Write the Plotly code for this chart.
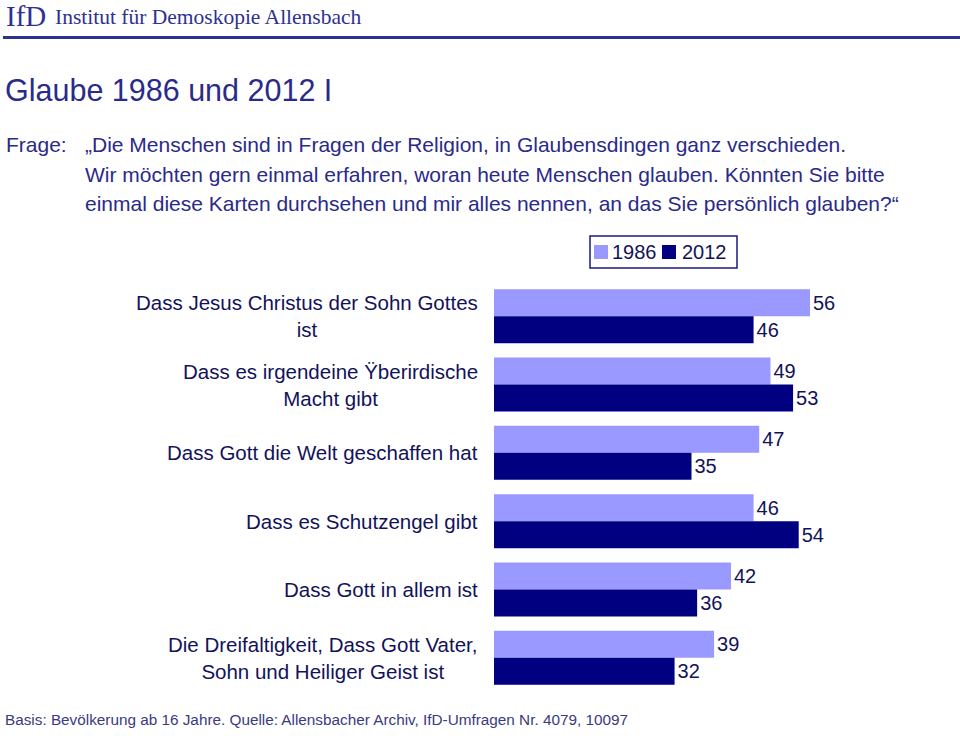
import plotly.graph_objects as go

categories = [
    "Dass Jesus Christus der Sohn Gottes<br>ist",
    "Dass es irgendeine Ÿberirdische<br>Macht gibt",
    "Dass Gott die Welt geschaffen hat",
    "Dass es Schutzengel gibt",
    "Dass Gott in allem ist",
    "Die Dreifaltigkeit, Dass Gott Vater,<br>Sohn und Heiliger Geist ist",
]
cat_ids = ["c1", "c2", "c3", "c4", "c5", "c6"]
values_1986 = [56, 49, 47, 46, 42, 39]
values_2012 = [46, 53, 35, 54, 36, 32]
series_names = ["1986", "2012"]

header_logo = "IfD"
header_inst = "Institut für Demoskopie Allensbach"
title_text = "Glaube 1986 und 2012 I"
question_label = "Frage:"
question_lines = [
    "„Die Menschen sind in Fragen der Religion, in Glaubensdingen ganz verschieden.",
    "Wir möchten gern einmal erfahren, woran heute Menschen glauben. Könnten Sie bitte",
    "einmal diese Karten durchsehen und mir alles nennen, an das Sie persönlich glauben?“",
]
footer_text = "Basis: Bevölkerung ab 16 Jahre. Quelle: Allensbacher Archiv, IfD-Umfragen Nr. 4079, 10097"

W, H = 960, 736
L, R, T, B = 494, 71, 282, 44
PW = W - L - R
PH = H - T - B

def px(x):
    return (x - L) / PW

def py(y):
    return (H - B - y) / PH

C_LIGHT = "#9999FF"
C_DARK = "#000080"
C_TEXT = "#2a2a8a"
C_LABEL = "#12125a"
FONT = "Liberation Sans, Arial, sans-serif"
SERIF = "Liberation Serif, Times New Roman, serif"

fig = go.Figure()
for name, vals, col in [(series_names[0], values_1986, C_LIGHT), (series_names[1], values_2012, C_DARK)]:
    fig.add_trace(go.Bar(
        y=cat_ids, x=vals, orientation="h", name=name,
        marker=dict(color=col, line=dict(width=0)),
        text=[str(v) for v in vals], textposition="outside",
        textfont=dict(size=20, color=C_LABEL, family=FONT),
        cliponaxis=False, showlegend=False, hoverinfo="skip",
    ))

annotations = []
for cid, lab in zip(cat_ids, categories):
    annotations.append(dict(
        x=0, y=cid, xref="x", yref="y", text=lab, showarrow=False,
        xanchor="right", yanchor="middle", align="center", xshift=-14,
        font=dict(size=20.5, color=C_LABEL, family=FONT),
    ))

annotations += [
    dict(x=px(4), y=py(16), xref="paper", yref="paper", text=header_logo, showarrow=False,
         xanchor="left", yanchor="middle", font=dict(size=29, color="#2e3192", family=SERIF)),
    dict(x=px(53), y=py(17), xref="paper", yref="paper", text=header_inst, showarrow=False,
         xanchor="left", yanchor="middle", font=dict(size=21.5, color="#2e3192", family=SERIF)),
    dict(x=px(3), y=py(90), xref="paper", yref="paper", text=title_text, showarrow=False,
         xanchor="left", yanchor="middle", font=dict(size=30.5, color=C_TEXT, family=FONT)),
    dict(x=px(4), y=py(145), xref="paper", yref="paper", text=question_label, showarrow=False,
         xanchor="left", yanchor="middle", font=dict(size=21, color=C_TEXT, family=FONT)),
    dict(x=px(3), y=py(719), xref="paper", yref="paper", text=footer_text, showarrow=False,
         xanchor="left", yanchor="middle", font=dict(size=15.3, color="#3a3a82", family=FONT)),
]
for i, line in enumerate(question_lines):
    annotations.append(dict(
        x=px(83), y=py(145 + 29 * i), xref="paper", yref="paper", text=line,
        showarrow=False, xanchor="left", yanchor="middle",
        font=dict(size=21, color=C_TEXT, family=FONT),
    ))

# legend (drawn manually to match the compact boxed legend)
leg_items = [(series_names[0], C_LIGHT, 594, 610), (series_names[1], C_DARK, 662, 680)]
shapes = [
    dict(type="line", xref="paper", yref="paper", x0=px(3), x1=px(960), y0=py(37.5), y1=py(37.5),
         line=dict(color="#2e3192", width=3)),
    dict(type="rect", xref="paper", yref="paper", x0=px(590), x1=px(737), y0=py(236), y1=py(268),
         line=dict(color="#1a1a80", width=1.5), fillcolor="white"),
]
for name, col, sx, tx in leg_items:
    shapes.append(dict(type="rect", xref="paper", yref="paper", x0=px(sx), x1=px(sx + 14),
                       y0=py(245), y1=py(259), line=dict(width=0), fillcolor=col))
    annotations.append(dict(x=px(tx), y=py(252), xref="paper", yref="paper", text=name,
                            showarrow=False, xanchor="left", yanchor="middle",
                            font=dict(size=20, color=C_LABEL, family=FONT)))

fig.update_layout(
    width=W, height=H,
    margin=dict(l=L, r=R, t=T, b=B, autoexpand=False),
    paper_bgcolor="white", plot_bgcolor="white",
    barmode="group", bargap=0.21, bargroupgap=0,
    xaxis=dict(range=[0, 70], visible=False, fixedrange=True),
    yaxis=dict(autorange="reversed", showticklabels=False, showgrid=False, zeroline=False,
               showline=False, ticks="", fixedrange=True),
    showlegend=False,
    hovermode=False,
    annotations=annotations,
    shapes=shapes,
    font=dict(family=FONT),
)

fig.write_html("out.html", config={"displayModeBar": False},
               post_script="document.body.style.margin='0px';")
